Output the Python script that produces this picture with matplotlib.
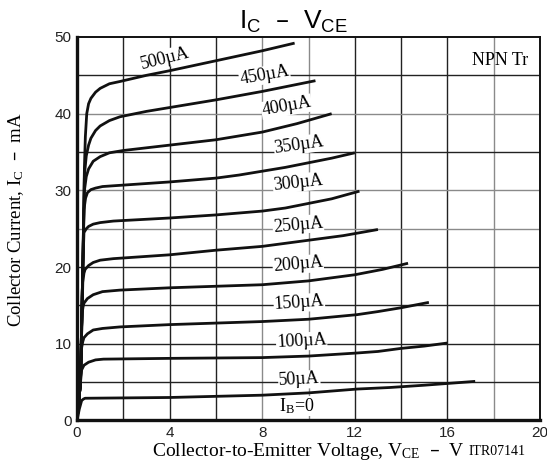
import matplotlib
matplotlib.use("Agg")
import matplotlib.pyplot as plt

# Ic-Vce curves (x: V, y: mA)
ib_labels = ["500µA", "450µA", "400µA", "350µA", "300µA", "250µA",
             "200µA", "150µA", "100µA", "50µA"]

vce_500 = [0, 0.15, 0.25, 0.32, 0.36, 0.42, 0.5, 0.6, 0.8, 1.0, 1.4, 1.86, 3, 4, 6, 8, 9.4]
ic_500 = [0, 5, 20, 33, 37, 40, 41.3, 42, 42.8, 43.3, 43.9, 44.2, 45.0, 45.6, 46.9, 48.2, 49.2]
vce_450 = [0, 0.15, 0.25, 0.32, 0.4, 0.5, 0.6, 0.8, 1.0, 1.4, 1.86, 3, 4, 6, 8, 10.3]
ic_450 = [0, 5, 20, 32, 34.5, 35.9, 36.8, 37.8, 38.4, 39.1, 39.6, 40.3, 40.8, 41.8, 42.9, 44.3]
vce_400 = [0, 0.15, 0.25, 0.32, 0.4, 0.5, 0.7, 1.0, 1.4, 2, 4, 6, 8, 9.5, 11]
ic_400 = [0, 5, 20, 30, 31.8, 32.8, 33.8, 34.4, 34.9, 35.2, 35.9, 36.6, 37.6, 38.7, 40.0]
vce_350 = [0, 0.15, 0.25, 0.3, 0.37, 0.45, 0.6, 0.8, 1.1, 1.57, 4, 6, 7, 8, 9, 10, 11, 12]
ic_350 = [0, 5, 20, 27.5, 29.0, 29.7, 30.1, 30.3, 30.5, 30.6, 31.1, 31.6, 32.0, 32.5, 33.0, 33.6, 34.2, 34.9]
vce_300 = [0, 0.15, 0.25, 0.3, 0.4, 0.5, 0.7, 1.0, 1.57, 4, 6, 8, 9, 10, 11, 12.2]
ic_300 = [0, 5, 20, 24.5, 25.0, 25.3, 25.6, 25.8, 26.0, 26.4, 26.8, 27.3, 27.7, 28.3, 28.9, 29.9]
vce_250 = [0, 0.15, 0.25, 0.3, 0.35, 0.5, 0.7, 1.0, 1.57, 4, 6, 8, 10, 11.5, 13]
ic_250 = [0, 5, 18, 19.2, 19.7, 20.2, 20.6, 20.9, 21.1, 21.6, 22.2, 22.7, 23.5, 24.1, 24.9]
vce_200 = [0, 0.15, 0.22, 0.26, 0.3, 0.45, 0.7, 1.1, 1.86, 4, 8, 10, 11, 12, 13.2, 14.3]
ic_200 = [0, 5, 14, 14.8, 15.3, 15.9, 16.4, 16.8, 17.0, 17.3, 17.7, 18.2, 18.6, 19.0, 19.7, 20.5]
vce_150 = [0, 0.12, 0.2, 0.25, 0.3, 0.45, 0.7, 1.1, 1.86, 4, 8, 10, 12.1, 13, 14, 15.2]
ic_150 = [0, 4, 9.5, 10.3, 10.8, 11.3, 11.8, 12.0, 12.2, 12.5, 12.9, 13.2, 13.8, 14.2, 14.7, 15.4]
vce_100 = [0, 0.12, 0.2, 0.3, 0.5, 0.8, 1.14, 4, 8, 10, 12.1, 13, 14, 15, 16]
ic_100 = [0, 4, 6.6, 7.2, 7.6, 7.9, 8.0, 8.1, 8.2, 8.4, 8.8, 9.0, 9.4, 9.7, 10.1]
vce_50 = [0, 0.1, 0.2, 0.28, 0.35, 4, 8, 10, 12.1, 13.5, 15, 17.2]
ic_50 = [0, 1.5, 2.6, 2.8, 2.9, 3.0, 3.3, 3.6, 4.1, 4.3, 4.6, 5.1]

curves = [(vce_500, ic_500), (vce_450, ic_450), (vce_400, ic_400),
          (vce_350, ic_350), (vce_300, ic_300), (vce_250, ic_250),
          (vce_200, ic_200), (vce_150, ic_150), (vce_100, ic_100),
          (vce_50, ic_50)]

# label anchor (V, mA) and rotation for each curve label
label_x = [3.8, 8.1, 9.05, 9.6, 9.55, 9.55, 9.55, 9.6, 9.7, 9.6]
label_y = [47.2, 45.0, 40.9, 35.9, 31.0, 25.5, 20.3, 15.3, 10.3, 5.3]
label_rot = [14, 10, 10, 8, 6, 5, 5, 4, 3, 3]

xticks = [0, 4, 8, 12, 16, 20]
yticks = [0, 10, 20, 30, 40, 50]

SERIF = "Liberation Serif"
SANS = "Liberation Sans"

fig = plt.figure(figsize=(5.47, 4.68), dpi=100)
ax = fig.add_axes([0.1408, 0.1015, 0.8464, 0.8195])

ax.set_xlim(0, 20)
ax.set_ylim(0, 50)

# grid: every 2 V and every 5 mA, some lines lighter as in the scan
light_v = [8, 10, 18]
for v in range(2, 20, 2):
    ax.axvline(v, color="#8a8a8a" if v in light_v else "#222222", lw=1.0, zorder=1)
light_h = [40, 25, 30]
for h in range(5, 50, 5):
    ax.axhline(h, color="#8a8a8a" if h in light_h else "#222222", lw=1.0, zorder=1)

for (xs, ys) in curves:
    ax.plot(xs, ys, color="#111111", lw=2.0, solid_capstyle="butt",
            solid_joinstyle="round", zorder=3)

for lab, lx, ly, rot in zip(ib_labels, label_x, label_y, label_rot):
    ax.text(lx, ly, lab, family=SERIF, fontsize=13, ha="center", va="center",
            rotation=rot, zorder=4,
            bbox=dict(facecolor="white", edgecolor="none", pad=0.4))
ax.text(9.5, 1.9, r"I$\mathregular{_B}$=0", family=SERIF, fontsize=13,
        ha="center", va="center", zorder=4,
        bbox=dict(facecolor="white", edgecolor="none", pad=0.2))

ax.text(0.975, 0.96, "NPN Tr", transform=ax.transAxes, family=SERIF,
        fontsize=13, ha="right", va="top", zorder=4)

for s in ["top", "right"]:
    ax.spines[s].set_linewidth(1.4)
for s in ["bottom", "left"]:
    ax.spines[s].set_linewidth(2.4)
for s in ax.spines.values():
    s.set_color("#111111")
    s.set_zorder(5)

ax.set_xticks(xticks)
ax.set_yticks(yticks)
ax.tick_params(length=0, pad=4, labelsize=11, colors="#222222")
for t in ax.get_xticklabels() + ax.get_yticklabels():
    t.set_family(SANS)

ax.set_xlabel(r"Collector-to-Emitter Voltage, V$\mathregular{_{CE}}$  –  V",
              family=SERIF, fontsize=14, labelpad=1)
ax.set_ylabel(r"Collector Current, I$\mathregular{_C}$  –  mA",
              family=SERIF, fontsize=13.5)
ax.yaxis.set_label_coords(-0.11, 0.525)
fig.text(0.96, 0.022, "ITR07141", family=SERIF, fontsize=10, ha="right",
         va="bottom")

fig.text(0.537, 0.926, r"I$\mathregular{_C}$  –  V$\mathregular{_{CE}}$",
         family=SANS, fontsize=19, ha="center", va="bottom")

fig.savefig("out.png", dpi=100)
